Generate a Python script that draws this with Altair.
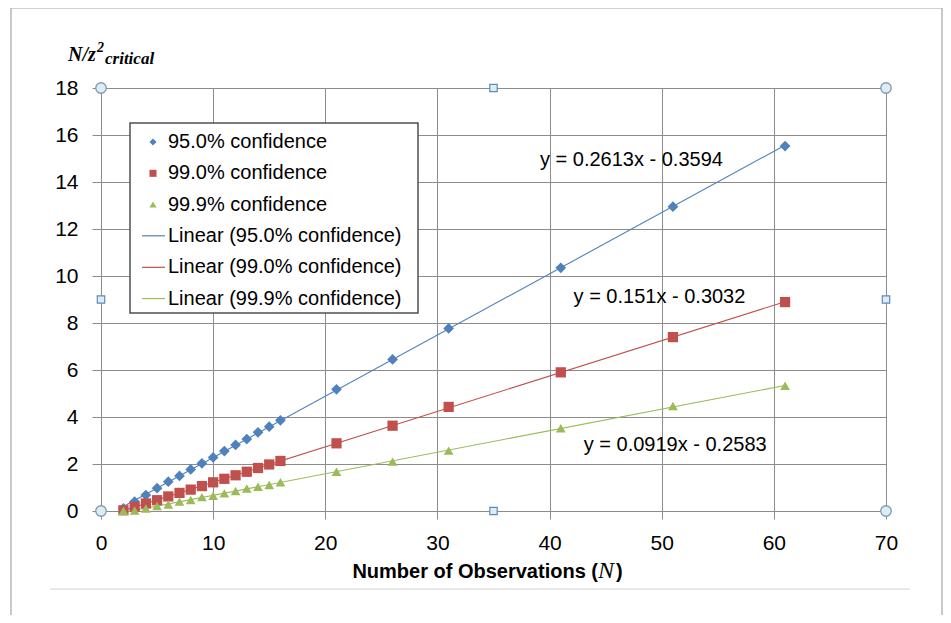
import altair as alt
import pandas as pd

# ---- data ----
N = [2, 3, 4, 5, 6, 7, 8, 9, 10, 11, 12, 13, 14, 15, 16, 21, 26, 31, 41, 51, 61]
conf95 = [0.11, 0.40, 0.68, 0.97, 1.25, 1.49, 1.77, 2.03, 2.28, 2.55, 2.81, 3.06,
          3.35, 3.59, 3.86, 5.18, 6.45, 7.77, 10.35, 12.95, 15.53]
conf99 = [0.03, 0.18, 0.32, 0.46, 0.62, 0.77, 0.91, 1.06, 1.22, 1.37, 1.52, 1.67,
          1.83, 1.98, 2.13, 2.88, 3.63, 4.43, 5.90, 7.40, 8.89]
conf999 = [0.01, 0.02, 0.11, 0.21, 0.28, 0.40, 0.47, 0.59, 0.65, 0.75, 0.85, 0.96,
           1.03, 1.11, 1.22, 1.67, 2.10, 2.57, 3.52, 4.47, 5.33]

series_names = ["95.0% confidence", "99.0% confidence", "99.9% confidence"]
series_colors = ["#4F81BD", "#C0504D", "#9BBB59"]
series_shapes = ["diamond", "square", "triangle-up"]
series_sizes = [115, 95, 115]

eq_text = ["y = 0.2613x - 0.3594", "y = 0.151x - 0.3032", "y = 0.0919x - 0.2583"]
eq_x = [47.3, 49.8, 51.2]
eq_y = [14.94, 9.1, 2.81]

legend_labels = ["95.0% confidence", "99.0% confidence", "99.9% confidence",
                 "Linear (95.0% confidence)", "Linear (99.0% confidence)",
                 "Linear (99.9% confidence)"]
legend_series = series_names + series_names
legend_kind = ["point", "point", "point", "line", "line", "line"]
legend_y = [15.70, 14.37, 13.04, 11.71, 10.37, 9.04]

x_ticks = [0, 10, 20, 30, 40, 50, 60, 70]
y_ticks = [0, 2, 4, 6, 8, 10, 12, 14, 16, 18]

handle_x = [0, 70, 0, 70, 35, 35, 0, 70]
handle_y = [0, 0, 18, 18, 0, 18, 9, 9]
handle_kind = ["circle"] * 4 + ["square"] * 4

# ---- tables ----
rows = []
for name, vals in zip(series_names, [conf95, conf99, conf999]):
    for n, v in zip(N, vals):
        rows.append({"N": n, "value": v, "series": name})
df = pd.DataFrame(rows)
eq_df = pd.DataFrame({"ex": eq_x, "ey": eq_y, "eq": eq_text})
leg_df = pd.DataFrame({"label": legend_labels, "series": legend_series,
                       "kind": legend_kind, "ly": legend_y})
h_df = pd.DataFrame({"hx": handle_x, "hy": handle_y, "kind": handle_kind})
one = pd.DataFrame({"k": [0]})

SANS = "Liberation Sans, Arial, sans-serif"
SERIF = "Liberation Serif, Times New Roman, serif"
GRID = "#8c8c8c"

xscale = alt.Scale(domain=[0, 70], nice=False)
yscale = alt.Scale(domain=[0, 18], nice=False)
xaxis = alt.Axis(values=x_ticks, title=None, grid=True, gridColor=GRID, tickColor=GRID,
                 domainColor=GRID, tickSize=8, labelFont=SANS, labelFontSize=21,
                 labelColor="#000", labelPadding=13, format="d", labelFlush=False)
yaxis = alt.Axis(values=y_ticks, title=None, grid=True, gridColor=GRID, tickColor=GRID,
                 domainColor=GRID, tickSize=9, labelFont=SANS, labelFontSize=21,
                 labelColor="#000", labelPadding=14, format="d", labelFlush=False)

color = alt.Color("series:N", scale=alt.Scale(domain=series_names, range=series_colors), legend=None)
shape = alt.Shape("series:N", scale=alt.Scale(domain=series_names, range=series_shapes), legend=None)
size = alt.Size("series:N", scale=alt.Scale(domain=series_names, range=series_sizes), legend=None)

frame = alt.Chart(one).mark_rect(filled=False, stroke="#a6a6a6", strokeWidth=1.2).encode(
    x=alt.value(-90), x2=alt.value(841), y=alt.value(-80), y2=alt.value(540))
sep = alt.Chart(one).mark_rule(color="#d4d4d4", strokeWidth=1).encode(
    x=alt.value(-51), x2=alt.value(809), y=alt.value(501))

lines = alt.Chart(df).transform_regression(
    "N", "value", groupby=["series"], extent=[2, 61]
).mark_line(strokeWidth=1.1).encode(
    x=alt.X("N:Q", scale=xscale, axis=xaxis),
    y=alt.Y("value:Q", scale=yscale, axis=yaxis),
    color=color)

points = alt.Chart(df).mark_point(filled=True, opacity=1).encode(
    x=alt.X("N:Q", scale=xscale, axis=xaxis),
    y=alt.Y("value:Q", scale=yscale, axis=yaxis),
    color=color, shape=shape, size=size)

eqs = alt.Chart(eq_df).mark_text(font=SANS, fontSize=20, align="center",
                                 baseline="middle", color="#000").encode(
    x="ex:Q", y="ey:Q", text="eq:N")

leg_box = alt.Chart(one).mark_rect(fill="white", stroke="#505050", strokeWidth=1.5).encode(
    x=alt.value(29), x2=alt.value(317), y=alt.value(35), y2=alt.value(225))
leg_sym = alt.Chart(leg_df).transform_filter(alt.datum.kind == "point").mark_point(
    filled=True, opacity=1, size=50).encode(
    x=alt.value(52), y="ly:Q", color=color, shape=shape)
leg_line = alt.Chart(leg_df).transform_filter(alt.datum.kind == "line").mark_rule(
    strokeWidth=1.2).encode(x=alt.value(41), x2=alt.value(64), y="ly:Q", color=color)
leg_text = alt.Chart(leg_df).mark_text(font=SANS, fontSize=20, align="left",
                                       baseline="middle", color="#000").encode(
    x=alt.value(67), y="ly:Q", text="label:N")

h_circ = alt.Chart(h_df).transform_filter(alt.datum.kind == "circle").mark_point(
    shape="circle", filled=True, fill="#dcedf6", stroke="#8298ab", strokeWidth=1.3,
    size=110, opacity=1).encode(x="hx:Q", y="hy:Q")
h_sq = alt.Chart(h_df).transform_filter(alt.datum.kind == "square").mark_point(
    shape="square", filled=True, fill="#dcedf6", stroke="#5f8ab8", strokeWidth=1.2,
    size=55, opacity=1).encode(x="hx:Q", y="hy:Q")

yt1 = alt.Chart(one).mark_text(text="N/z", font=SERIF, fontSize=20, fontStyle="italic",
                               fontWeight="bold", align="left", baseline="alphabetic",
                               color="#000").encode(x=alt.value(-33), y=alt.value(-27))
yt2 = alt.Chart(one).mark_text(text="2", font=SERIF, fontSize=14, fontStyle="italic",
                               fontWeight="bold", align="left", baseline="alphabetic",
                               color="#000").encode(x=alt.value(-4), y=alt.value(-36))
yt3 = alt.Chart(one).mark_text(text="critical", font=SERIF, fontSize=17, fontStyle="italic",
                               fontWeight="bold", align="left", baseline="alphabetic",
                               color="#000").encode(x=alt.value(4), y=alt.value(-24))

xt1 = alt.Chart(one).mark_text(text="Number of Observations (", font=SANS, fontSize=20,
                               fontWeight="bold", align="right", baseline="alphabetic",
                               color="#000").encode(x=alt.value(497), y=alt.value(490))
xt2 = alt.Chart(one).mark_text(text="N", font=SERIF, fontSize=24, fontStyle="italic",
                               align="left", baseline="alphabetic",
                               color="#000").encode(x=alt.value(497), y=alt.value(490))
xt3 = alt.Chart(one).mark_text(text=")", font=SANS, fontSize=20, fontWeight="bold",
                               align="left", baseline="alphabetic",
                               color="#000").encode(x=alt.value(515), y=alt.value(490))

chart = alt.layer(
    frame, sep, lines, points, leg_box, leg_line, leg_sym, leg_text, eqs,
    h_circ, h_sq, yt1, yt2, yt3, xt1, xt2, xt3
).properties(
    width=785, height=423,
    autosize=alt.AutoSizeParams(type="none"),
    padding={"left": 93, "top": 80, "right": 57, "bottom": 104},
    background="white"
).configure_view(stroke=None)

chart.save("out.html", embed_options={"renderer": "svg", "actions": False})
